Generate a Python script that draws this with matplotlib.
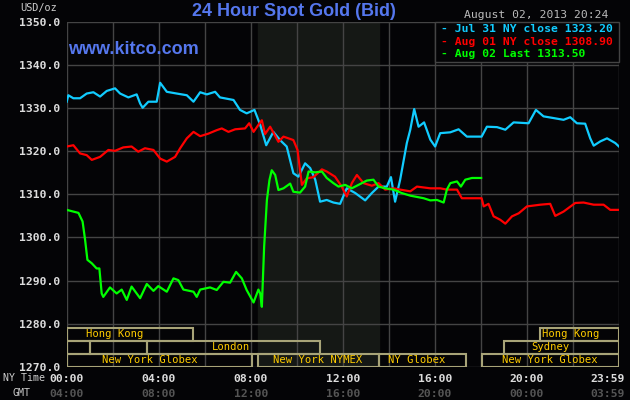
import matplotlib
matplotlib.use("Agg")
import matplotlib.pyplot as plt
from matplotlib.patches import Rectangle
from matplotlib.transforms import offset_copy

# hours after 00:00 NY time -> bid price (USD/oz)
jul31_hours = [0.0, 0.07, 0.29, 0.58, 0.87, 1.16, 1.45, 1.74, 2.10, 2.32, 2.68, 3.04, 3.19, 3.30,
               3.55, 3.91, 4.06, 4.35, 4.78, 5.22, 5.51, 5.80, 6.09, 6.45, 6.66, 7.25, 7.53, 7.82,
               8.16, 8.41, 8.67, 8.98, 9.27, 9.56, 9.85, 10.07, 10.36, 10.58, 10.80, 11.01, 11.30,
               11.59, 11.88, 12.17, 12.54, 12.97, 13.26, 13.55, 13.91, 14.09, 14.27, 14.49, 14.78,
               14.93, 15.10, 15.29, 15.53, 15.80, 16.01, 16.23, 16.67, 17.03, 17.39, 18.03, 18.26,
               18.70, 19.06, 19.42, 20.07, 20.39, 20.72, 21.16, 21.59, 21.88, 22.17, 22.53, 22.75,
               22.90, 23.19, 23.48, 23.84, 24.0]
jul31_price = [1331.5, 1333.0, 1332.3, 1332.3, 1333.4, 1333.7, 1332.7, 1334.0, 1334.6, 1333.4,
               1332.5, 1333.2, 1331.1, 1330.1, 1331.5, 1331.5, 1335.9, 1333.8, 1333.4, 1333.0,
               1331.5, 1333.7, 1333.2, 1333.8, 1332.5, 1331.9, 1329.6, 1328.8, 1329.6, 1326.1,
               1321.4, 1324.5, 1322.6, 1321.1, 1314.9, 1314.1, 1317.2, 1316.1, 1313.4, 1308.3,
               1308.7, 1308.1, 1307.8, 1311.4, 1310.3, 1308.6, 1310.3, 1311.8, 1311.8, 1314.0,
               1308.3, 1313.4, 1321.9, 1325.0, 1329.8, 1325.7, 1326.7, 1322.7, 1321.1, 1324.2,
               1324.4, 1325.1, 1323.4, 1323.4, 1325.7, 1325.6, 1325.0, 1326.7, 1326.5, 1329.6,
               1328.1, 1327.7, 1327.3, 1327.9, 1326.5, 1326.4, 1323.0, 1321.3, 1322.3, 1323.0,
               1321.9, 1321.1]

aug01_hours = [0.0, 0.29, 0.58, 0.87, 1.09, 1.45, 1.81, 2.10, 2.46, 2.82, 3.11, 3.40, 3.77, 4.06,
               4.35, 4.71, 4.93, 5.22, 5.51, 5.80, 6.16, 6.52, 6.74, 7.03, 7.32, 7.75, 7.93, 8.12,
               8.38, 8.48, 8.62, 8.84, 9.20, 9.42, 9.85, 10.03, 10.22, 10.43, 10.72, 11.09, 11.30,
               11.66, 11.95, 12.17, 12.39, 12.61, 12.90, 13.26, 13.55, 13.84, 14.20, 14.49, 14.93,
               15.22, 15.80, 16.23, 16.52, 16.96, 17.17, 18.03, 18.12, 18.33, 18.55, 18.84, 19.06,
               19.35, 19.64, 20.00, 20.58, 21.01, 21.23, 21.59, 22.10, 22.46, 22.90, 23.33, 23.62,
               24.0]
aug01_price = [1321.1, 1321.4, 1319.5, 1319.1, 1318.0, 1318.7, 1320.3, 1320.1, 1320.9, 1321.1,
               1319.9, 1320.7, 1320.3, 1318.3, 1317.6, 1318.7, 1320.7, 1323.0, 1324.5, 1323.5,
               1324.1, 1324.9, 1325.3, 1324.5, 1325.1, 1325.3, 1326.5, 1324.5, 1326.5, 1327.2,
               1324.0, 1325.7, 1322.2, 1323.4, 1322.6, 1320.3, 1312.2, 1313.7, 1314.0, 1315.8,
               1315.3, 1314.1, 1311.8, 1309.5, 1312.6, 1314.5, 1312.6, 1312.0, 1312.6, 1311.1,
               1311.4, 1311.1, 1310.7, 1311.8, 1311.4, 1311.4, 1311.1, 1311.1, 1309.1, 1309.1,
               1307.2, 1307.8, 1304.9, 1304.1, 1303.2, 1304.9, 1305.6, 1307.2, 1307.6, 1307.8,
               1305.0, 1306.0, 1308.0, 1308.1, 1307.6, 1307.6, 1306.4, 1306.4]

aug02_hours = [0.0, 0.29, 0.51, 0.69, 0.80, 0.90, 1.09, 1.30, 1.42, 1.52, 1.59, 1.88, 2.17, 2.39,
               2.61, 2.82, 3.19, 3.48, 3.77, 3.98, 4.35, 4.64, 4.85, 5.07, 5.51, 5.65, 5.80, 6.23,
               6.52, 6.81, 7.10, 7.36, 7.61, 7.82, 8.12, 8.33, 8.41, 8.48, 8.58, 8.70, 8.81, 8.91,
               9.06, 9.20, 9.42, 9.71, 9.85, 10.14, 10.36, 10.51, 10.80, 11.09, 11.30, 11.59, 11.81,
               12.10, 12.39, 12.68, 13.04, 13.33, 13.55, 13.84, 14.20, 14.56, 14.93, 15.22, 15.51,
               15.80, 16.09, 16.38, 16.52, 16.67, 16.96, 17.13, 17.32, 17.61, 18.01]
aug02_price = [1306.4, 1306.0, 1305.7, 1303.7, 1299.4, 1294.8, 1294.0, 1292.8, 1292.8, 1287.0,
               1286.2, 1288.4, 1287.0, 1287.9, 1285.5, 1288.6, 1285.9, 1289.2, 1287.6, 1288.7,
               1287.4, 1290.5, 1290.1, 1287.9, 1287.4, 1286.2, 1287.9, 1288.4, 1287.8, 1289.7,
               1289.5, 1292.0, 1290.5, 1287.8, 1284.9, 1287.9, 1287.0, 1283.9, 1297.9, 1308.7,
               1313.3, 1315.6, 1314.5, 1311.0, 1311.4, 1312.5, 1310.6, 1310.4, 1311.8, 1315.3,
               1315.1, 1315.3, 1313.8, 1312.6, 1311.8, 1312.2, 1311.4, 1312.2, 1313.2, 1313.4,
               1311.8, 1311.4, 1311.1, 1310.3, 1309.7, 1309.4, 1309.1, 1308.6, 1308.7, 1308.1,
               1311.1, 1312.6, 1313.0, 1311.8, 1313.4, 1313.8, 1313.8]

legend_labels = ["Jul 31 NY close 1323.20", "Aug 01 NY close 1308.90", "Aug 02 Last 1313.50"]
series_colors = ["#11ccff", "#ff0000", "#00ff00"]

ny_ticks = [0, 4, 8, 12, 16, 20, 24]
ny_labels = ["00:00", "04:00", "08:00", "12:00", "16:00", "20:00", "23:59"]
gmt_labels = ["04:00", "08:00", "12:00", "16:00", "20:00", "00:00", "03:59"]
y_ticks = [1270, 1280, 1290, 1300, 1310, 1320, 1330, 1340, 1350]

# trading sessions: (row, start h, end h, label, label centre h)
sessions = [
    (0, 0.0, 5.5, "Hong Kong", 2.1),
    (0, 20.55, 24.0, "Hong Kong", 21.9),
    (1, 0.0, 1.0, "", 0),
    (1, 1.0, 3.5, "", 0),
    (1, 3.5, 11.0, "London", 7.15),
    (1, 19.0, 24.0, "Sydney", 21.0),
    (2, 0.0, 8.05, "New York Globex", 3.6),
    (2, 8.33, 13.55, "New York NYMEX", 10.9),
    (2, 13.55, 17.35, "NY Globex", 15.2),
    (2, 18.05, 24.0, "New York Globex", 21.0),
]
row_bottoms = [1276.0, 1273.0, 1270.0]
row_height = 2.95

BG = "#040406"
GRID = "#444444"
BOX = "#a8a478"
mono = "DejaVu Sans Mono"

fig = plt.figure(figsize=(6.3, 4.0), dpi=100, facecolor=BG)
ax = fig.add_axes([66.7 / 630, 1 - 366.7 / 400, (619 - 66.7) / 630, (366.7 - 22) / 400])
ax.set_facecolor(BG)
ax.set_xlim(0, 24)
ax.set_ylim(1270, 1350)

# NYMEX pit hours shading
ax.axvspan(8.33, 13.55, color="#151815", zorder=0)

for h in range(0, 25, 2):
    ax.axvline(h, color=GRID, lw=1.0, zorder=1)
for v in y_ticks:
    ax.axhline(v, color=GRID, lw=1.0, zorder=1)

for hrs, prc, col in [(jul31_hours, jul31_price, series_colors[0]),
                      (aug01_hours, aug01_price, series_colors[1]),
                      (aug02_hours, aug02_price, series_colors[2])]:
    ax.plot(hrs, prc, color=col, lw=1.6, zorder=3)

for row, x0, x1, label, xc in sessions:
    y0 = row_bottoms[row]
    ax.add_patch(Rectangle((x0, y0), x1 - x0, row_height, fill=False,
                           edgecolor=BOX, lw=1.5, zorder=4))
    if label:
        ax.text(xc, y0 + row_height / 2, label, color="#ffcc00", fontsize=7.6,
                family=mono, ha="center", va="center", zorder=5)

for s in ax.spines.values():
    s.set_visible(False)
ax.set_xticks([])
ax.set_yticks(y_ticks)
ax.set_yticklabels([f"{v:.1f}" for v in y_ticks], family=mono, fontweight="bold",
                   fontsize=8.2, color="#dddddd")
ax.tick_params(axis="y", length=0, pad=5)

xt = ax.get_xaxis_transform()
for h, a, b in zip(ny_ticks, ny_labels, gmt_labels):
    tr = xt
    if h == 24:
        # last label sits inside the figure edge
        tr = offset_copy(xt, fig=fig, x=-11, y=0, units="dots")
    ax.text(h, -0.035, a, transform=tr, ha="center", va="center", family=mono,
            fontweight="bold", fontsize=8.2, color="#dddddd", clip_on=False)
    ax.text(h, -0.08, b, transform=tr, ha="center", va="center", family=mono,
            fontweight="bold", fontsize=8.2, color="#555555", clip_on=False)

fig.text(3 / 630, 1 - 378 / 400, "NY Time", family=mono, fontsize=7.2, color="#cccccc",
         ha="left", va="center")
fig.text(12 / 630, 1 - 393 / 400, "GMT", family=mono, fontsize=7.2, color="#cccccc",
         ha="left", va="center")
fig.text(20 / 630, 1 - 8 / 400, "USD/oz", family=mono, fontsize=7.4, color="#cccccc",
         ha="left", va="center")

fig.text(294 / 630, 1 - 11 / 400, "24 Hour Spot Gold (Bid)", family="Liberation Sans",
         fontweight="bold", fontsize=13, color="#5577ee", ha="center", va="center")
fig.text(68 / 630, 1 - 49 / 400, "www.kitco.com", family="Liberation Sans",
         fontweight="bold", fontsize=13, color="#5577ee", ha="left", va="center")
fig.text(608 / 630, 1 - 15 / 400, "August 02, 2013 20:24", family=mono, fontsize=8.2,
         color="#bbbbbb", ha="right", va="center")

# legend box
lx0 = (435 - 66.7) / (619 - 66.7)
ax.add_patch(Rectangle((lx0, (61.7 - 22) / -344.7 + 1), 1 - lx0, (61.7 - 22) / 344.7,
                       transform=ax.transAxes, facecolor=BG, edgecolor=GRID, lw=1.0,
                       zorder=6, clip_on=False))
for i, (lab, col) in enumerate(zip(legend_labels, series_colors)):
    fig.text(441 / 630, 1 - (29.5 + 12.4 * i) / 400, "- " + lab, family=mono,
             fontweight="bold", fontsize=8.2, color=col, ha="left", va="center", zorder=7)

fig.savefig("out.png", dpi=100, facecolor=BG)
